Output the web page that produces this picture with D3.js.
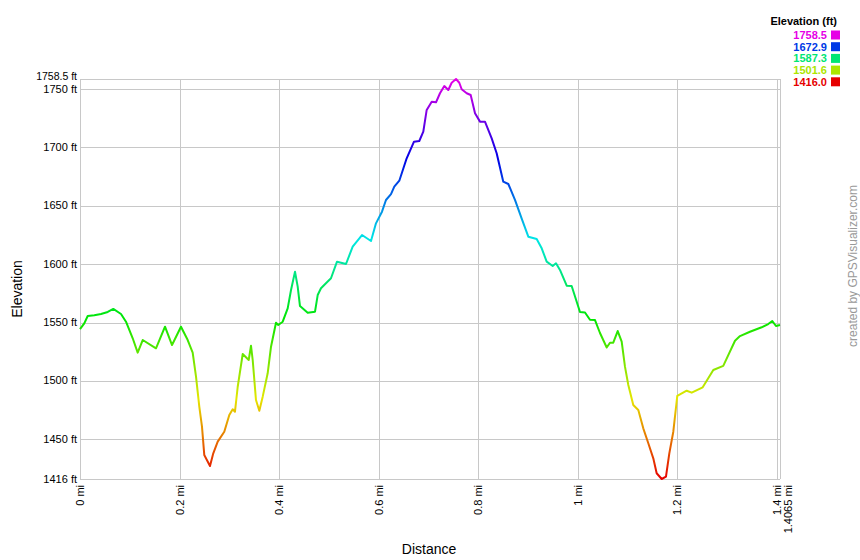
<!DOCTYPE html>
<html><head><meta charset="utf-8">
<script src="https://cdn.jsdelivr.net/npm/d3@7"></script>
<style>body{margin:0;background:#fff}svg{display:block;font-family:"Liberation Sans",Arial,sans-serif}</style>
</head><body><svg id="c" width="860" height="560"></svg>
<script>
const distance = [0,0.0086,0.0155,0.0287,0.0422,0.0557,0.0669,0.0824,0.0924,0.1059,0.1159,0.126,0.1527,0.1708,0.1849,0.2029,0.2164,0.2264,0.2331,0.2397,0.2451,0.2497,0.2612,0.2678,0.2767,0.2899,0.3,0.3068,0.3114,0.3169,0.3269,0.339,0.3436,0.347,0.3536,0.3603,0.3671,0.3771,0.3838,0.3938,0.3984,0.4073,0.4173,0.424,0.432,0.4374,0.442,0.4575,0.4722,0.4776,0.4842,0.5043,0.5164,0.5345,0.5479,0.5666,0.5847,0.5947,0.6068,0.6148,0.6249,0.6315,0.6416,0.6564,0.6711,0.6817,0.6898,0.6966,0.7067,0.7153,0.7233,0.732,0.74,0.7468,0.7555,0.7621,0.7669,0.777,0.785,0.7937,0.8037,0.8137,0.8272,0.8372,0.8505,0.8606,0.874,0.8875,0.9008,0.9176,0.9277,0.9377,0.9498,0.9564,0.9644,0.9779,0.9879,1.0046,1.0147,1.0247,1.0348,1.0448,1.0583,1.0649,1.0715,1.0804,1.0884,1.095,1.1017,1.1117,1.1218,1.1318,1.1419,1.1519,1.1587,1.1688,1.1774,1.1841,1.1921,1.2001,1.219,1.2291,1.2512,1.2725,1.2925,1.3161,1.3261,1.3462,1.3697,1.3829,1.391,1.3984,1.4065];
const elevation = [1544.4,1549.3,1555.6,1556.2,1557.3,1559,1561.6,1557.3,1550.7,1536.5,1524.2,1535,1527.9,1546.4,1530.7,1546.4,1535,1524.2,1503.6,1478,1460.8,1436.6,1427.1,1438,1448,1456.5,1470.8,1475.7,1473.6,1495,1523,1517.9,1530.1,1517.9,1483.6,1474.5,1486.5,1506.5,1529.3,1549.8,1547.9,1550.7,1562.1,1577.8,1593.5,1580.7,1564.1,1558.4,1559.3,1573.5,1579.3,1587.9,1602.1,1600.1,1615,1624.9,1619.8,1634.9,1644.9,1654.9,1660,1666.3,1671.4,1690.6,1704.8,1705.4,1713.4,1732,1739.1,1738.5,1746.3,1752.5,1749.1,1755.3,1758.5,1755.3,1749.7,1746.3,1744.8,1729.1,1722,1722,1707.7,1694.9,1670.6,1668.6,1655,1639,1623.5,1621.5,1613.5,1602.1,1598.4,1600.7,1595,1581.5,1581.3,1559,1558.6,1552.4,1552.1,1541,1528.6,1532.7,1532.7,1542.7,1533.6,1512.2,1496.5,1479.4,1475.1,1459.4,1446.6,1433.7,1420.9,1416,1418,1438,1456.5,1487.1,1491.6,1489.9,1494.5,1509.3,1512.8,1534.4,1538.4,1542.1,1545.9,1548.7,1551.3,1547,1547.9];
const yTicks = [1416,1450,1500,1550,1600,1650,1700,1750,1758.5];
const yTickLabels = ["1416 ft","1450 ft","1500 ft","1550 ft","1600 ft","1650 ft","1700 ft","1750 ft","1758.5 ft"];
const xTicks = [0,0.2,0.4,0.6,0.8,1,1.2,1.4,1.4065];
const xTickLabels = ["0 mi","0.2 mi","0.4 mi","0.6 mi","0.8 mi","1 mi","1.2 mi","1.4 mi","1.4065 mi"];
const legendValues = [1758.5,1672.9,1587.3,1501.6,1416.0];

const minE = 1416, maxE = 1758.5, maxD = 1.4065;
const svg = d3.select("#c");
const x = d3.scaleLinear().domain([0, maxD]).range([80, 780]);
const y = d3.scaleLinear().domain([minE, maxE]).range([479, 79]);
const colorOf = e => d3.hsl(300 * (e - minE) / (maxE - minE), 1, 0.45).formatHex();

// grid
const grid = svg.append("g").attr("stroke", "#c8c8c8").attr("stroke-width", 1).attr("shape-rendering", "crispEdges");
yTicks.forEach(t => grid.append("line").attr("x1", 80).attr("x2", 780).attr("y1", Math.round(y(t)) + 0.5).attr("y2", Math.round(y(t)) + 0.5));
xTicks.forEach(t => grid.append("line").attr("x1", Math.round(x(t)) + 0.5).attr("x2", Math.round(x(t)) + 0.5).attr("y1", 79).attr("y2", 479));

// y labels (top two nudged apart so they do not collide)
yTicks.forEach((t, i) => {
  const nudge = t === 1758.5 ? -2 : (t === 1750 ? 1 : 0);
  svg.append("text").attr("x", 77).attr("y", y(t) + nudge).attr("dy", "0.32em")
    .attr("text-anchor", "end").attr("font-size", t === 1758.5 ? 10.5 : 11).attr("fill", "#000").text(yTickLabels[i]);
});
// x labels
xTicks.forEach((t, i) => {
  const px = x(t) + (i === xTicks.length - 1 ? 8 : 0);
  svg.append("text").attr("transform", `translate(${px + 4},485) rotate(-90)`)
    .attr("text-anchor", "end").attr("font-size", 11).attr("fill", "#000").text(xTickLabels[i]);
});

// gradient
const defs = svg.append("defs");
const grad = defs.append("linearGradient").attr("id", "eg").attr("gradientUnits", "userSpaceOnUse")
  .attr("x1", 0).attr("x2", 0).attr("y1", y(minE)).attr("y2", y(maxE));
d3.range(0, 1.0001, 0.05).forEach(f => grad.append("stop").attr("offset", f).attr("stop-color", colorOf(minE + f * (maxE - minE))));

const pts = distance.map((d, i) => [d, elevation[i]]);
const line = d3.line().x(d => x(d[0])).y(d => y(d[1]));
svg.append("path").attr("d", line(pts)).attr("fill", "none").attr("stroke", "url(#eg)")
  .attr("stroke-width", 2).attr("stroke-linejoin", "round");

// axis titles
svg.append("text").attr("x", 429).attr("y", 554).attr("text-anchor", "middle").attr("font-size", 14).text("Distance");
svg.append("text").attr("transform", "translate(22,289) rotate(-90)").attr("text-anchor", "middle").attr("font-size", 14).text("Elevation");
svg.append("text").attr("transform", "translate(857,266) rotate(-90)").attr("text-anchor", "middle").attr("font-size", 12).attr("fill", "#999").text("created by GPSVisualizer.com");

// legend
svg.append("text").attr("x", 837).attr("y", 25).attr("text-anchor", "end").attr("font-size", 11).attr("font-weight", "bold").text("Elevation (ft)");
legendValues.forEach((v, i) => {
  const cy = 35 + i * 11.7;
  svg.append("text").attr("x", 827).attr("y", cy).attr("dy", "0.35em").attr("text-anchor", "end")
    .attr("font-size", 11).attr("font-weight", "bold").attr("fill", colorOf(v)).text(v.toFixed(1));
  svg.append("rect").attr("x", 831).attr("y", cy - 4.5).attr("width", 9).attr("height", 9).attr("fill", colorOf(v));
});
</script></body></html>
